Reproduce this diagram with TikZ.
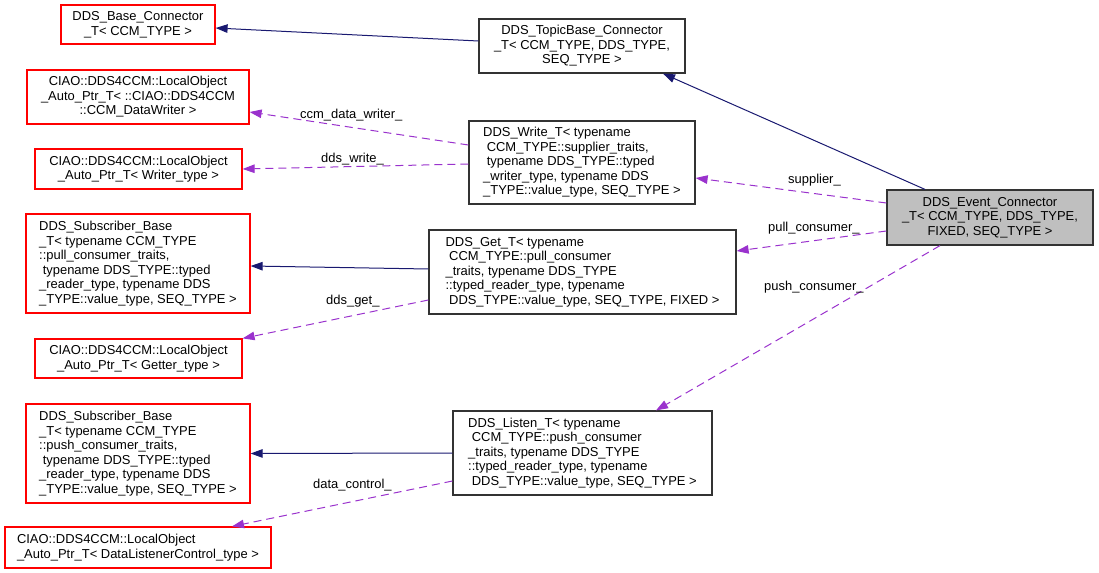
\documentclass[tikz,border=0pt]{standalone}
\usepackage{fontspec}
\setmainfont{Liberation Sans}
\usetikzlibrary{arrows.meta}
\definecolor{edgeblue}{RGB}{25,25,112}
\definecolor{edgeviolet}{RGB}{154,50,205}
\definecolor{nodegray}{RGB}{191,191,191}
\tikzset{
  classnode/.style = {rectangle, inner sep=0pt, line width=1.2bp,
    font=\fontsize{13}{14.6}\selectfont},
  cls_doc/.style = {classnode, draw=black!80},% classe documentee
  cls_ext/.style = {classnode, draw=red},% classe externe
  cls_main/.style = {classnode, draw=black!80, fill=nodegray},% classe courante
  edge_inh/.style = {edgeblue, line width=1bp,
    -{Triangle[length=12bp,width=8.5bp]}},% heritage
  edge_use/.style = {edgeviolet, line width=1bp, dash pattern=on 8bp off 5bp,
    -{Triangle[length=12bp,width=8.5bp]}},% usage
  edge_lbl/.style = {font=\fontsize{13}{14.6}\selectfont, inner sep=0pt,
    anchor=base west}
}
\begin{document}
\begin{tikzpicture}[x=1bp,y=-1bp]
\useasboundingbox (0,0) rectangle (1099,573);
% colonne de gauche
\node [cls_ext, minimum width=154bp, minimum height=39bp, align=center] (base) at (138,24.5)
  {DDS\_Base\_Connector\\\_T< CCM\_TYPE >};
\node [cls_ext, minimum width=222bp, minimum height=54bp, align=center] (dwriter) at (138,97)
  {CIAO::DDS4CCM::LocalObject\\\_Auto\_Ptr\_T< ::CIAO::DDS4CCM\\::CCM\_DataWriter >};
\node [cls_ext, minimum width=207bp, minimum height=40bp, align=center] (wtype) at (138.5,169)
  {CIAO::DDS4CCM::LocalObject\\\_Auto\_Ptr\_T< Writer\_type >};
\node [cls_ext, minimum width=224bp, minimum height=99bp, align=left] (subpull) at (138,263.5)
  {DDS\_Subscriber\_Base\\\_T< typename CCM\_TYPE\\::pull\_consumer\_traits,\\\ typename DDS\_TYPE::typed\\\_reader\_type, typename DDS\\\_TYPE::value\_type, SEQ\_TYPE >};
\node [cls_ext, minimum width=207bp, minimum height=39bp, align=center] (getter) at (138.5,358.5)
  {CIAO::DDS4CCM::LocalObject\\\_Auto\_Ptr\_T< Getter\_type >};
\node [cls_ext, minimum width=224bp, minimum height=99bp, align=left] (subpush) at (138,453.5)
  {DDS\_Subscriber\_Base\\\_T< typename CCM\_TYPE\\::push\_consumer\_traits,\\\ typename DDS\_TYPE::typed\\\_reader\_type, typename DDS\\\_TYPE::value\_type, SEQ\_TYPE >};
\node [cls_ext, minimum width=266bp, minimum height=41bp, align=left] (dlc) at (138,547.5)
  {CIAO::DDS4CCM::LocalObject\\\_Auto\_Ptr\_T< DataListenerControl\_type >};
% colonne du milieu
\node [cls_doc, minimum width=206bp, minimum height=54bp, align=center] (topic) at (582,46)
  {DDS\_TopicBase\_Connector\\\_T< CCM\_TYPE, DDS\_TYPE,\\SEQ\_TYPE >};
\node [cls_doc, minimum width=226bp, minimum height=83bp, align=left] (write) at (582,162.5)
  {DDS\_Write\_T< typename\\\ CCM\_TYPE::supplier\_traits,\\\ typename DDS\_TYPE::typed\\\_writer\_type, typename DDS\\\_TYPE::value\_type, SEQ\_TYPE >};
\node [cls_doc, minimum width=307bp, minimum height=84bp, align=left] (get) at (582.5,272)
  {DDS\_Get\_T< typename\\\ CCM\_TYPE::pull\_consumer\\\_traits, typename DDS\_TYPE\\::typed\_reader\_type, typename\\\ DDS\_TYPE::value\_type, SEQ\_TYPE, FIXED >};
\node [cls_doc, minimum width=259bp, minimum height=84bp, align=left] (listen) at (582.5,453)
  {DDS\_Listen\_T< typename\\\ CCM\_TYPE::push\_consumer\\\_traits, typename DDS\_TYPE\\::typed\_reader\_type, typename\\\ DDS\_TYPE::value\_type, SEQ\_TYPE >};
% classe courante
\node [cls_main, minimum width=206bp, minimum height=55bp, align=center] (event) at (990,217.5)
  {DDS\_Event\_Connector\\\_T< CCM\_TYPE, DDS\_TYPE,\\FIXED, SEQ\_TYPE >};

% heritage
\draw [edge_inh] ([yshift=5bp]topic.west) -- ([yshift=-3.5bp]base.east);
\draw [edge_inh] ([xshift=-65bp]event.north) -- ([xshift=81bp]topic.south);
\draw [edge_inh] ([yshift=3bp]get.west) -- ([yshift=-2.5bp]subpull.east);
\draw [edge_inh] (listen.west) -- (subpush.east);

% usage
\draw [edge_use] ([yshift=17.5bp]write.west) -- ([yshift=-15bp]dwriter.east);
\draw [edge_use] ([yshift=-1.5bp]write.west) -- (wtype.east);
\draw [edge_use] ([yshift=14.5bp]event.west) -- ([yshift=-15.5bp]write.east);
\draw [edge_use] ([yshift=-13.5bp]event.west) -- ([yshift=21bp]get.east);
\draw [edge_use] ([xshift=-50bp]event.south) -- ([xshift=73.5bp]listen.north);
\draw [edge_use] ([yshift=-28bp]get.west) -- (getter.north east);
\draw [edge_use] ([yshift=-28bp]listen.west) -- ([xshift=94bp]dlc.north);

% etiquettes
\node [edge_lbl] (l_cdw) at (300,119) {ccm\_data\_writer\_};
\node [edge_lbl] (l_dw) at (321,162.5) {dds\_write\_};
\node [edge_lbl] (l_sup) at (788,184) {supplier\_};
\node [edge_lbl] (l_pull) at (768,231.5) {pull\_consumer\_};
\node [edge_lbl] (l_push) at (764,291) {push\_consumer\_};
\node [edge_lbl] (l_get) at (326,305) {dds\_get\_};
\node [edge_lbl] (l_dc) at (313,488) {data\_control\_};
\end{tikzpicture}
\end{document}
